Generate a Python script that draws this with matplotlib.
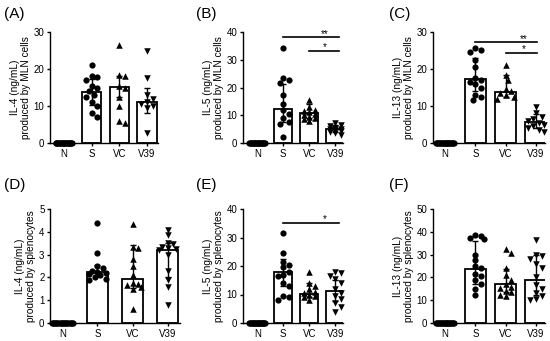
import matplotlib
matplotlib.use("Agg")
import matplotlib.pyplot as plt
import numpy as np

plt.rcParams['font.family'] = ['Liberation Sans', 'DejaVu Sans']

groups = ["N", "S", "VC", "V39"]

# panel (A) IL-4, MLN cells
a_pts = [
    [0.0] * 20,
    [21.2, 18.0, 17.8, 17.0, 15.5, 15.0, 14.0, 13.0, 12.5, 11.0, 10.0, 8.2, 7.0],
    [26.5, 18.5, 18.0, 15.5, 15.0, 12.5, 10.0, 6.0, 5.5],
    [25.0, 17.5, 13.0, 12.0, 11.0, 10.5, 10.0, 9.5, 2.8],
]
a_bar = [0, 13.9, 15.2, 11.1]
a_lo = [0, 10.4, 12.3, 8.0]
a_hi = [0, 17.3, 18.0, 14.8]

# panel (B) IL-5, MLN cells
b_pts = [
    [0.0] * 20,
    [34.3, 23.3, 22.8, 21.5, 17.2, 14.0, 11.8, 10.6, 9.0, 7.5, 7.0, 2.0],
    [15.5, 13.0, 12.0, 11.5, 11.0, 10.5, 10.0, 9.5, 9.0, 8.5, 8.0],
    [7.2, 6.5, 6.0, 5.5, 5.2, 5.0, 4.8, 4.5, 4.0, 3.5, 3.0],
]
b_bar = [0, 12.4, 10.9, 5.0]
b_lo = [0, 7.5, 9.0, 4.0]
b_hi = [0, 21.3, 14.0, 6.5]

# panel (C) IL-13, MLN cells
c_pts = [
    [0.0] * 20,
    [25.7, 25.2, 24.5, 22.5, 20.5, 17.5, 17.0, 16.5, 16.0, 15.0, 13.0, 12.5, 11.5],
    [21.0, 18.5, 17.0, 14.5, 14.0, 13.5, 13.0, 12.5, 12.0],
    [9.8, 8.0, 7.0, 6.5, 6.0, 5.5, 5.0, 4.5, 4.0, 3.5, 3.0],
]
c_bar = [0, 17.3, 13.8, 5.6]
c_lo = [0, 14.0, 12.5, 4.0]
c_hi = [0, 23.0, 18.4, 7.8]

# panel (D) IL-4, splenocytes
d_pts = [
    [0.0] * 20,
    [4.4, 3.05, 2.5, 2.4, 2.3, 2.25, 2.2, 2.15, 2.1, 2.0, 1.95, 1.9],
    [4.35, 3.35, 3.3, 2.8, 2.5, 2.1, 1.75, 1.7, 1.65, 1.6, 1.5, 0.6],
    [4.1, 3.85, 3.5, 3.45, 3.35, 3.3, 3.25, 3.2, 3.0, 2.3, 1.9, 1.6, 0.8],
]
d_bar = [0, 2.25, 1.95, 3.2]
d_lo = [0, 2.05, 1.55, 2.0]
d_hi = [0, 2.55, 3.4, 3.5]

# panel (E) IL-5, splenocytes
e_pts = [
    [0.0] * 20,
    [31.5, 24.5, 21.5, 20.5, 19.5, 18.0, 17.0, 16.5, 14.0, 13.0, 9.5, 9.0, 8.0],
    [18.0, 14.0, 13.0, 12.0, 11.0, 10.5, 10.0, 9.5, 9.0, 8.0],
    [18.0, 17.5, 16.5, 15.5, 14.0, 12.0, 10.5, 9.5, 8.5, 7.0, 5.5, 4.0],
]
e_bar = [0, 17.9, 10.3, 11.1]
e_lo = [0, 12.9, 9.0, 7.8]
e_hi = [0, 22.3, 14.0, 15.0]

# panel (F) IL-13, splenocytes
f_pts = [
    [0.0] * 20,
    [38.5, 38.0, 37.5, 37.0, 30.0, 27.5, 25.0, 24.0, 21.5, 20.5, 19.0, 17.0, 15.0, 12.5],
    [32.5, 30.5, 24.0, 21.0, 19.0, 17.0, 16.0, 15.5, 14.0, 13.5, 12.5, 12.0],
    [36.5, 30.0, 29.5, 28.0, 26.0, 24.0, 20.0, 16.5, 15.0, 13.0, 12.0, 10.5, 10.0],
]
f_bar = [0, 23.5, 17.3, 18.8]
f_lo = [0, 17.0, 13.5, 12.5]
f_hi = [0, 35.9, 23.9, 29.8]

markers = ["o", "o", "^", "v"]

panels = [
    # letter, points, bar, lo, hi, ymax, ylabel, rect(px: left, bottom, width, height), xlim, sig, label pos(px)
    ("(A)", a_pts, a_bar, a_lo, a_hi, 30, "IL-4 (ng/mL)\nproduced by MLN cells",
     (50, 143, 108, 111), (-0.5, 3.4), [], (4, 14)),
    ("(B)", b_pts, b_bar, b_lo, b_hi, 40, "IL-5 (ng/mL)\nproduced by MLN cells",
     (243, 143, 100, 111), (-0.55, 3.3), [(1, 3.15, 38.1, "**"), (2, 3.15, 33.1, "*")], (196, 14)),
    ("(C)", c_pts, c_bar, c_lo, c_hi, 30, "IL-13 (ng/mL)\nproduced by MLN cells",
     (433, 143, 112, 111), (-0.4, 3.3), [(1, 3.05, 27.2, "**"), (2, 3.05, 24.4, "*")], (389, 14)),
    ("(D)", d_pts, d_bar, d_lo, d_hi, 5, "IL-4 (ng/mL)\nproduced by splenocytes",
     (50, 323, 130, 114), (-0.35, 3.35), [], (4, 185)),
    ("(E)", e_pts, e_bar, e_lo, e_hi, 40, "IL-5 (ng/mL)\nproduced by splenocytes",
     (243, 323, 100, 114), (-0.55, 3.3), [(1, 3.15, 35.2, "*")], (196, 185)),
    ("(F)", f_pts, f_bar, f_lo, f_hi, 50, "IL-13 (ng/mL)\nproduced by splenocytes",
     (433, 323, 112, 114), (-0.4, 3.3), [], (389, 185)),
]

W, H = 550, 341
fig = plt.figure(figsize=(5.5, 3.41), dpi=100)


def swarm_offsets(ax, x0, vals, d=5.6, maxoff=0.3):
    # simple beeswarm in pixel space
    pts = ax.transData.transform([(x0, v) for v in vals])
    px_per_x = ax.transData.transform((1, 0))[0] - ax.transData.transform((0, 0))[0]
    lim = maxoff * px_per_x
    order = np.argsort(vals)[::-1]
    placed = []
    offs = np.zeros(len(vals))
    cands = [0.0]
    for k in range(1, 30):
        cands += [k * d / 2, -k * d / 2]
    for i in order:
        y = pts[i, 1]
        best, best_score = 0.0, None
        for c in cands:
            if abs(c) > lim:
                continue
            score = sum(max(0, d - np.hypot(c - px, y - py)) for px, py in placed)
            if score == 0:
                best = c
                best_score = 0
                break
            if best_score is None or score < best_score:
                best, best_score = c, score
        placed.append((best, y))
        offs[i] = best / px_per_x
    return offs


for letter, pts, bar, lo, hi, ymax, ylabel, rect, xlim, sig, lpos in panels:
    l, b, w, h = rect
    ax = fig.add_axes([l / W, (H - b) / H, w / W, h / H])
    ax.set_xlim(*xlim)
    ax.set_ylim(0, ymax)
    x = np.arange(len(groups))
    bw = 0.6 if letter == "(D)" else 0.7
    ax.bar(x, bar, width=bw, color="white", edgecolor="black", linewidth=1.3, zorder=2)
    err = [np.array(bar) - np.array(lo), np.array(hi) - np.array(bar)]
    ax.errorbar(x[1:], bar[1:], yerr=[err[0][1:], err[1][1:]], fmt="none",
                ecolor="black", elinewidth=1.0, capsize=2.5, capthick=1.0, zorder=3)
    for i, vals in enumerate(pts):
        if i == 0:
            offs = np.linspace(-0.3, 0.3, len(vals))
        else:
            offs = swarm_offsets(ax, i, vals)
        ax.scatter(i + offs, vals, marker=markers[i], s=20 if markers[i] == "o" else 22,
                   color="black", linewidths=0, zorder=4, clip_on=False)
    for x1, x2, yv, star in sig:
        ax.plot([x1, x2], [yv, yv], color="black", lw=1.2, clip_on=False, zorder=5)
        ax.annotate(star, (2.6, yv), xytext=(0, -1), textcoords="offset points",
                    ha="center", va="bottom", fontsize=7, annotation_clip=False)
    ax.set_xticks(x)
    ax.set_xticklabels(groups)
    ax.set_yticks(np.linspace(0, ymax, 6 if ymax in (5, 50) else (4 if ymax == 30 else 5)))
    ax.spines["top"].set_visible(False)
    ax.spines["right"].set_visible(False)
    ax.spines["left"].set_linewidth(1.0)
    ax.spines["bottom"].set_linewidth(1.0)
    ax.tick_params(axis="both", labelsize=7, length=2.5, width=1.0, pad=1.5)
    ax.set_ylabel(ylabel, fontsize=7.3, labelpad=2, linespacing=1.1)
    fig.text(lpos[0] / W, (H - lpos[1]) / H, letter, fontsize=11, va="center", ha="left")

fig.savefig("out.png", dpi=100)
